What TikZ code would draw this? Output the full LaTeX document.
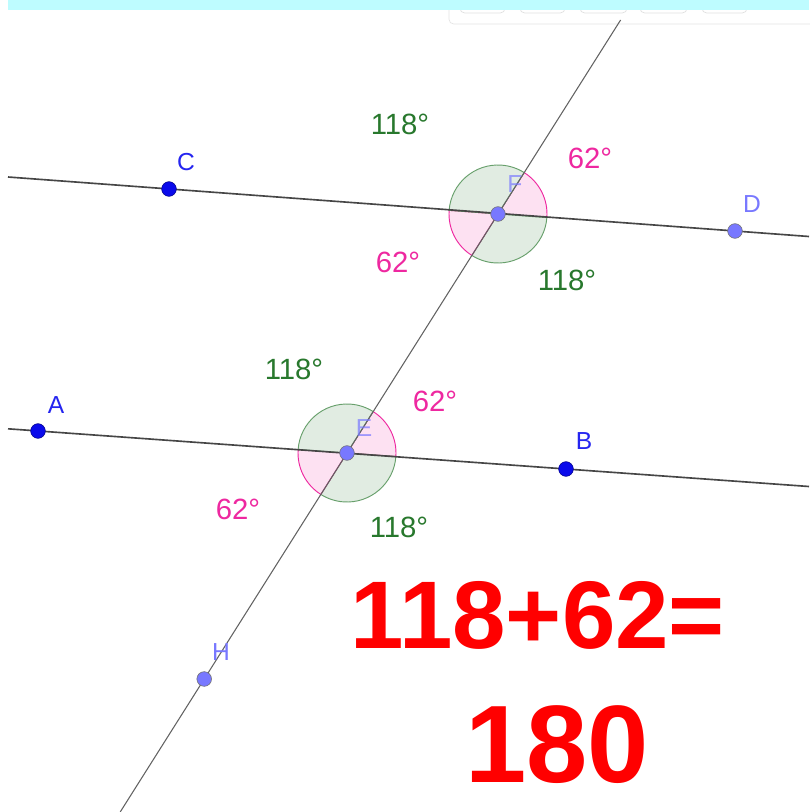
\documentclass[tikz,border=0pt]{standalone}
\usepackage{fontspec}
\setmainfont{Liberation Sans}
\usetikzlibrary{positioning}
\definecolor{gline}{RGB}{70,70,70}
\definecolor{ggreen}{RGB}{40,120,45}
\definecolor{gpink}{RGB}{238,40,160}
\definecolor{gfree}{RGB}{10,10,235}
\definecolor{gdep}{RGB}{120,120,255}
\definecolor{gbar}{RGB}{190,252,255}
\tikzset{
  pt/.style = {circle, draw=black!55, fill=gdep, inner sep=0pt,
    minimum size=12.5pt, line width=0.5pt},
  ptf/.style = {pt, draw=gfree!60!black, fill=gfree},
  lab/.style = {text=gdep, font=\fontsize{21}{24}\selectfont, inner sep=0pt},
  labf/.style = {lab, text=gfree!75!gdep},
  ln/.style = {draw=gline, line width=1.4pt},
  tr/.style = {draw=gline!85, line width=0.9pt},
  gsec/.style = {fill=ggreen!14, draw=ggreen!70, line width=0.8pt},
  psec/.style = {fill=gpink!14, draw=gpink, line width=0.8pt},
  g/.style = {text=ggreen, font=\fontsize{25}{30}\selectfont, inner sep=0pt},
  p/.style = {g, text=gpink},
  hand/.style = {text=red, font=\bfseries\fontsize{82}{88}\selectfont, inner sep=0pt},
  btn/.style = {draw=black!12, line width=0.6pt, rounded corners=4pt}
}

\begin{document}
\begin{tikzpicture}[x=0.03cm, y=-0.03cm]
  \useasboundingbox[fill=white] (0,0) rectangle (809,812);

  % toolbar and top bar
  \draw[btn, fill=white, draw=black!10] (449,-30) rectangle (840,24);
  \foreach \a/\b in {460/505, 520/565, 580/627, 640/687, 702/747}
    \draw[btn] (\a,-20) rectangle (\b,13);
  \fill[gbar] (8,0) rectangle (809,10);

  % points
  \coordinate (cdL) at (8,177);
  \coordinate (cdR) at (809,236.5);
  \coordinate (abL) at (8,428.8);
  \coordinate (abR) at (809,486.5);
  \coordinate (trB) at (120.2,812);
  \coordinate (trT) at (620.6,20);
  \coordinate (F) at (498,214);
  \coordinate (E) at (347,453);

  % angle sectors
  \foreach \c/\k in {F/4.24, E/4.12} {
    \filldraw[psec] (\c) -- ++(-57.71:49) arc[start angle=-57.71, end angle=\k, radius=49] -- cycle;
    \filldraw[gsec] (\c) -- ++(\k:49) arc[start angle=\k, end angle=122.29, radius=49] -- cycle;
    \filldraw[psec] (\c) -- ++(122.29:49) arc[start angle=122.29, end angle=180+\k, radius=49] -- cycle;
    \filldraw[gsec] (\c) -- ++(180+\k:49) arc[start angle=180+\k, end angle=302.29, radius=49] -- cycle;
  }

  % lines
  \draw[ln] (cdL) -- (cdR);
  \draw[ln] (abL) -- (abR);
  \draw[tr] (trB) -- (trT);

  \node[ptf] (C) at (169,189) {};
  \node[pt] (D) at (735,231) {};
  \node[pt] (Fp) at (F) {};
  \node[ptf] (A) at (38,431) {};
  \node[ptf] (B) at (566,469) {};
  \node[pt] (Ep) at (E) {};
  \node[pt] (H) at (204.2,679) {};

  \node[labf] (Cl) at (186,162) {C};
  \node[lab] (Dl) at (752,204) {D};
  \node[lab, opacity=0.7] (Fl) at (515,184) {F};
  \node[labf] (Al) at (56,405) {A};
  \node[labf] (Bl) at (584,441) {B};
  \node[lab, opacity=0.7] (El) at (364,428) {E};
  \node[lab] (Hl) at (221,652) {H};

  % angle values
  \node[g] (f1) at (400,124) {118°};
  \node[p] (f2) at (590,158) {62°};
  \node[p] (f3) at (398,262) {62°};
  \node[g] (f4) at (567,280) {118°};
  \node[g] (e1) at (294,369) {118°};
  \node[p] (e2) at (435,401) {62°};
  \node[p] (e3) at (238,509) {62°};
  \node[g] (e4) at (399,527) {118°};

  % handwritten sum
  \node[hand] (sum) at (538,615) {118+62=};
  \node[hand, font=\bfseries\fontsize{94}{100}\selectfont] (tot) at (557,745) {180};
\end{tikzpicture}
\end{document}
